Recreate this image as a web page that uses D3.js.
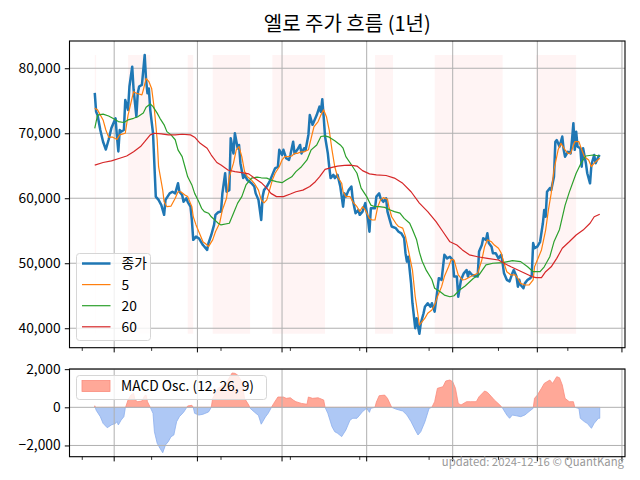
<!DOCTYPE html>
<html><head><meta charset="utf-8">
<script src="https://cdn.jsdelivr.net/npm/d3@7"></script>
<style>
body{margin:0;background:#fff}
svg{display:block}
text{font-family:"Noto Sans CJK KR","Noto Sans",sans-serif}
</style>
</head><body>
<svg id="c" width="640" height="480"></svg>
<script>
// ---------------- data ----------------
const titleText = "엘로 주가 흐름 (1년)";
const footerText = "updated: 2024-12-16 © QuantKang";
const legendLabels = ["종가", "5", "20", "60"];
const macdLabel = "MACD Osc. (12, 26, 9)";
const priceTicks = [40000, 50000, 60000, 70000, 80000];
const macdTicks = [-2000, 0, 2000];
const majorTickDates = ["2024-01-01","2024-03-01","2024-05-01","2024-07-01","2024-09-01","2024-11-01","2025-01-01"];
const minorTickDates = ["2023-12-09","2024-01-28","2024-03-18","2024-05-07","2024-06-26","2024-08-15","2024-10-04","2024-11-23"];

const closeSeries = [
["2023-12-18",76200],["2023-12-19",73300],["2023-12-20",72800],["2023-12-22",70500],["2023-12-24",68700],["2023-12-26",67500],["2023-12-28",69000],["2023-12-30",70800],
["2024-01-02",72300],["2024-01-03",69500],["2024-01-04",67200],["2024-01-05",70500],["2024-01-06",70250],["2024-01-08",70500],["2024-01-09",75100],["2024-01-11",73600],["2024-01-12",77200],["2024-01-14",80250],["2024-01-15",76700],["2024-01-17",72550],["2024-01-18",76150],["2024-01-19",77200],["2024-01-21",77450],["2024-01-23",82050],["2024-01-24",78200],["2024-01-25",76150],["2024-01-26",76900],["2024-01-27",73600],["2024-01-29",70000],["2024-01-31",60250],
["2024-02-02",59750],["2024-02-04",58950],["2024-02-06",57450],["2024-02-07",59750],["2024-02-10",60750],["2024-02-12",61000],["2024-02-14",60750],["2024-02-16",62300],["2024-02-17",61000],["2024-02-19",60500],["2024-02-20",59450],["2024-02-22",60000],["2024-02-23",59450],["2024-02-25",58700],["2024-02-26",56650],["2024-02-27",53600],["2024-02-29",54100],
["2024-03-02",53850],["2024-03-05",52800],["2024-03-08",52050],["2024-03-09",53100],["2024-03-11",54350],["2024-03-13",55900],["2024-03-14",57450],["2024-03-16",57850],["2024-03-18",57950],["2024-03-19",60750],["2024-03-21",63850],["2024-03-22",61000],["2024-03-24",61250],["2024-03-25",69250],["2024-03-27",66900],["2024-03-28",70000],["2024-03-30",67700],["2024-03-31",68200],
["2024-04-01",65400],["2024-04-03",63100],["2024-04-04",63600],["2024-04-06",62800],["2024-04-09",62300],["2024-04-11",61800],["2024-04-12",60750],["2024-04-14",59750],["2024-04-16",56650],["2024-04-17",60250],["2024-04-18",61250],["2024-04-20",61800],["2024-04-22",62550],["2024-04-24",63600],["2024-04-26",64600],["2024-04-28",64850],["2024-04-29",67450],
["2024-05-01",66650],["2024-05-02",67450],["2024-05-04",66150],["2024-05-06",65900],["2024-05-07",66650],["2024-05-09",68700],["2024-05-10",66900],["2024-05-12",67450],["2024-05-14",68200],["2024-05-15",66900],["2024-05-17",67700],["2024-05-18",67450],["2024-05-20",69750],["2024-05-21",72800],["2024-05-23",71300],["2024-05-24",71800],["2024-05-26",72800],["2024-05-28",74100],["2024-05-29",73300],["2024-05-30",75250],["2024-05-31",72550],
["2024-06-01",69500],["2024-06-03",66900],["2024-06-04",64850],["2024-06-05",63100],["2024-06-07",63600],["2024-06-08",63100],["2024-06-10",63600],["2024-06-12",61800],["2024-06-14",58700],["2024-06-15",60750],["2024-06-16",60250],["2024-06-18",61250],["2024-06-20",61800],["2024-06-21",59750],["2024-06-23",57700],["2024-06-25",58200],["2024-06-26",57450],["2024-06-28",57950],["2024-06-30",59250],
["2024-07-02",56650],["2024-07-03",54850],["2024-07-04",58450],["2024-07-07",58450],["2024-07-08",60250],["2024-07-10",60750],["2024-07-11",60000],["2024-07-13",59450],["2024-07-15",60000],["2024-07-16",57950],["2024-07-18",56400],["2024-07-19",55650],["2024-07-22",55400],["2024-07-24",54850],["2024-07-26",54600],["2024-07-28",53850],["2024-07-29",51550],["2024-07-30",50250],["2024-07-31",51000],
["2024-08-02",46900],["2024-08-03",43850],["2024-08-05",40000],["2024-08-06",41550],["2024-08-07",40250],["2024-08-08",39150],["2024-08-09",40750],["2024-08-11",42300],["2024-08-12",43300],["2024-08-14",43850],["2024-08-16",43300],["2024-08-17",43850],["2024-08-19",42550],["2024-08-21",45900],["2024-08-22",47700],["2024-08-24",47450],["2024-08-26",51300],["2024-08-28",50750],["2024-08-30",51000],
["2024-09-01",50500],["2024-09-02",47950],["2024-09-04",47950],["2024-09-05",44850],["2024-09-07",47450],["2024-09-09",48450],["2024-09-11",48950],["2024-09-12",47950],["2024-09-13",48700],["2024-09-15",48200],["2024-09-19",47950],["2024-09-20",51800],["2024-09-22",52800],["2024-09-23",53850],["2024-09-25",53600],["2024-09-26",54600],["2024-09-27",53100],["2024-09-29",52550],["2024-09-30",51550],
["2024-10-02",51550],["2024-10-04",50750],["2024-10-06",51300],["2024-10-07",50000],["2024-10-08",48450],["2024-10-10",47450],["2024-10-12",47200],["2024-10-14",48450],["2024-10-15",48950],["2024-10-17",47950],["2024-10-18",46400],["2024-10-19",47450],["2024-10-20",46650],["2024-10-22",46150],["2024-10-23",46900],["2024-10-25",47450],["2024-10-27",47700],["2024-10-28",48200],["2024-10-29",53100],["2024-10-30",52300],
["2024-11-01",52550],["2024-11-03",53300],["2024-11-05",56150],["2024-11-06",58200],["2024-11-07",57150],["2024-11-08",61000],["2024-11-10",61550],["2024-11-11",61250],["2024-11-13",63300],["2024-11-14",68700],["2024-11-15",68950],["2024-11-17",67950],["2024-11-19",69500],["2024-11-20",67450],["2024-11-21",66400],["2024-11-23",67150],["2024-11-25",66900],["2024-11-26",68950],["2024-11-27",71550],["2024-11-28",67450],["2024-11-29",70250],["2024-11-30",67950],
["2024-12-02",67700],["2024-12-03",64850],["2024-12-04",67700],["2024-12-06",65400],["2024-12-07",63850],["2024-12-09",62300],["2024-12-10",65150],["2024-12-11",65900],["2024-12-12",66650],["2024-12-13",65400],["2024-12-15",66400],["2024-12-16",66650]
];

const ma5Series = [
["2023-12-18",73850],["2023-12-20",73600],["2023-12-24",72050],["2023-12-26",70500],["2023-12-28",69400],["2023-12-31",69400],
["2024-01-03",69050],["2024-01-05",69750],["2024-01-09",70000],["2024-01-11",72800],["2024-01-13",74600],["2024-01-15",76400],["2024-01-17",76150],["2024-01-21",75900],["2024-01-22",76650],["2024-01-24",78450],["2024-01-26",77950],["2024-01-28",76900],["2024-01-30",73600],
["2024-02-01",69000],["2024-02-02",64850],["2024-02-05",61250],["2024-02-06",59450],["2024-02-08",58700],["2024-02-11",58800],["2024-02-14",60000],["2024-02-16",61000],["2024-02-18",61000],["2024-02-21",60500],["2024-02-23",60250],["2024-02-26",58700],["2024-02-27",57150],["2024-02-29",55900],
["2024-03-03",54350],["2024-03-05",53300],["2024-03-08",52800],["2024-03-09",52550],["2024-03-12",53600],["2024-03-14",54850],["2024-03-17",56150],["2024-03-19",58200],["2024-03-22",60000],["2024-03-24",63300],["2024-03-27",65400],["2024-03-29",67450],["2024-03-31",67950],
["2024-04-02",66400],["2024-04-04",64100],["2024-04-06",63300],["2024-04-09",62800],["2024-04-11",62300],["2024-04-14",61250],["2024-04-16",59750],["2024-04-18",59300],["2024-04-20",59750],["2024-04-22",61250],["2024-04-24",62800],["2024-04-26",63850],["2024-04-29",64850],
["2024-05-01",65900],["2024-05-03",66400],["2024-05-05",66400],["2024-05-08",66500],["2024-05-10",66900],["2024-05-12",66900],["2024-05-15",67150],["2024-05-17",67150],["2024-05-20",67450],["2024-05-22",69250],["2024-05-24",71000],["2024-05-27",71800],["2024-05-29",72800],["2024-05-31",73600],
["2024-06-02",72550],["2024-06-04",70500],["2024-06-06",67450],["2024-06-08",64850],["2024-06-10",63300],["2024-06-13",62300],["2024-06-14",61000],["2024-06-16",60250],["2024-06-19",60250],["2024-06-21",59450],["2024-06-24",58700],["2024-06-26",57950],["2024-06-28",58700],["2024-06-30",58200],
["2024-07-03",56900],["2024-07-05",56650],["2024-07-07",56650],["2024-07-09",58700],["2024-07-11",59750],["2024-07-13",60100],["2024-07-16",59850],["2024-07-17",58700],["2024-07-19",57150],["2024-07-22",56150],["2024-07-24",55650],["2024-07-27",55400],["2024-07-29",54100],["2024-07-31",52050],
["2024-08-03",48950],["2024-08-05",44850],["2024-08-08",40500],["2024-08-09",40750],["2024-08-12",41550],["2024-08-14",42300],["2024-08-17",42800],["2024-08-19",43600],["2024-08-21",44850],["2024-08-24",46400],["2024-08-26",47950],["2024-08-29",49450],["2024-08-31",50600],
["2024-09-02",50500],["2024-09-04",48950],["2024-09-05",48200],["2024-09-08",47450],["2024-09-10",47500],["2024-09-14",47950],["2024-09-19",48450],["2024-09-22",50500],["2024-09-24",52550],["2024-09-26",53600],["2024-09-29",53300],
["2024-10-01",52800],["2024-10-04",52300],["2024-10-06",51550],["2024-10-08",50000],["2024-10-10",48700],["2024-10-13",48200],["2024-10-16",48200],["2024-10-18",47700],["2024-10-20",46900],["2024-10-23",46650],["2024-10-26",46650],["2024-10-29",47450],["2024-10-30",49450],
["2024-11-02",51000],["2024-11-04",52050],["2024-11-07",55100],["2024-11-09",58200],["2024-11-11",60750],["2024-11-13",64350],["2024-11-16",67450],["2024-11-18",68450],["2024-11-21",67450],["2024-11-23",66900],["2024-11-25",66900],["2024-11-28",68700],
["2024-12-01",68700],["2024-12-03",67450],["2024-12-05",66400],["2024-12-08",65900],["2024-12-10",64850],["2024-12-12",65400],["2024-12-16",66150]
];

const ma20Series = [
["2023-12-18",70750],["2023-12-20",72800],["2023-12-24",72950],["2023-12-28",72650],["2023-12-31",72300],
["2024-01-04",71800],["2024-01-08",71650],["2024-01-11",72050],["2024-01-15",72300],["2024-01-18",72550],["2024-01-22",73100],["2024-01-24",74000],["2024-01-27",74500],["2024-01-29",74100],
["2024-02-01",73100],["2024-02-03",72300],["2024-02-06",71300],["2024-02-08",70250],["2024-02-11",69750],["2024-02-14",69000],["2024-02-16",67450],["2024-02-19",66400],["2024-02-21",64850],["2024-02-23",63300],["2024-02-26",62050],["2024-02-28",60750],
["2024-03-02",59450],["2024-03-04",58450],["2024-03-06",57950],["2024-03-09",57700],["2024-03-11",57150],["2024-03-14",56550],["2024-03-16",56150],["2024-03-18",55900],["2024-03-24",56150],["2024-03-27",57700],["2024-03-30",59250],
["2024-04-02",60250],["2024-04-05",62050],["2024-04-09",63100],["2024-04-13",63250],["2024-04-16",63150],["2024-04-20",63100],["2024-04-23",62800],["2024-04-27",62550],
["2024-05-01",62400],["2024-05-04",62800],["2024-05-08",63300],["2024-05-11",64100],["2024-05-15",64850],["2024-05-19",65900],["2024-05-22",67450],["2024-05-26",68200],["2024-05-29",69500],
["2024-06-01",69600],["2024-06-04",69400],["2024-06-08",68850],["2024-06-12",68200],["2024-06-14",67700],["2024-06-16",66400],["2024-06-20",65150],["2024-06-24",63850],["2024-06-27",61550],
["2024-07-01",60250],["2024-07-04",58950],["2024-07-07",58700],["2024-07-10",58700],["2024-07-14",58600],["2024-07-18",58200],["2024-07-21",57950],["2024-07-25",57700],["2024-07-28",56900],
["2024-08-01",56150],["2024-08-03",55200],["2024-08-06",53600],["2024-08-08",51700],["2024-08-10",50300],["2024-08-13",48900],["2024-08-17",47500],["2024-08-19",46150],["2024-08-23",45600],["2024-08-26",45100],["2024-08-30",44850],
["2024-09-02",45000],["2024-09-06",45900],["2024-09-10",46500],["2024-09-16",47700],["2024-09-20",48200],["2024-09-25",49750],["2024-09-30",50000],
["2024-10-07",50100],["2024-10-14",50400],["2024-10-20",50250],["2024-10-25",49450],["2024-10-29",48700],
["2024-11-03",48700],["2024-11-06",49450],["2024-11-10",51000],["2024-11-13",53300],["2024-11-17",55200],["2024-11-21",58900],["2024-11-24",60900],["2024-11-29",63850],
["2024-12-03",65600],["2024-12-06",66500],["2024-12-11",66650],["2024-12-16",66500]
];

const ma60Series = [
["2023-12-18",65100],["2023-12-24",65500],["2023-12-30",65750],
["2024-01-05",66150],["2024-01-10",66500],["2024-01-15",67150],["2024-01-20",67950],["2024-01-23",68700],["2024-01-27",69750],["2024-01-30",70000],
["2024-02-04",69900],["2024-02-09",69750],["2024-02-14",69750],["2024-02-19",69850],["2024-02-25",69750],["2024-02-28",69400],
["2024-03-03",68450],["2024-03-08",67700],["2024-03-11",66650],["2024-03-15",65500],["2024-03-18",65100],["2024-03-23",64350],["2024-03-28",64100],
["2024-04-02",63950],["2024-04-07",63750],["2024-04-11",63100],["2024-04-16",62400],["2024-04-20",61550],["2024-04-23",60750],["2024-04-27",60250],
["2024-05-02",60250],["2024-05-07",60650],["2024-05-11",61000],["2024-05-16",61250],["2024-05-21",61800],["2024-05-25",62550],["2024-05-28",63300],
["2024-06-01",64450],["2024-06-06",64750],["2024-06-10",64950],["2024-06-15",65050],["2024-06-19",65100],["2024-06-24",64950],["2024-06-28",64250],
["2024-07-03",63750],["2024-07-08",63600],["2024-07-15",63500],["2024-07-21",63100],["2024-07-27",62300],
["2024-08-02",61000],["2024-08-08",59250],["2024-08-14",57950],["2024-08-20",56400],["2024-08-25",54850],["2024-08-30",53300],
["2024-09-04",52800],["2024-09-08",52050],["2024-09-13",51300],["2024-09-19",51000],["2024-09-26",50750],
["2024-10-04",50500],["2024-10-08",50000],["2024-10-13",49450],["2024-10-18",48950],["2024-10-23",48450],["2024-10-28",47950],["2024-10-31",47800],
["2024-11-04",47800],["2024-11-07",48700],["2024-11-11",49450],["2024-11-15",50750],["2024-11-19",52300],["2024-11-24",53300],["2024-11-29",54350],
["2024-12-04",55100],["2024-12-09",56150],["2024-12-12",57150],["2024-12-16",57550]
];

const macdSeries = [
["2023-12-18",80],["2023-12-19",-150],["2023-12-22",-490],["2023-12-24",-840],["2023-12-27",-1070],["2023-12-30",-925],
["2024-01-02",-840],["2024-01-03",-750],["2024-01-04",-925],["2024-01-06",-670],["2024-01-08",-490],["2024-01-09",-50],["2024-01-11",385],["2024-01-13",640],["2024-01-15",735],["2024-01-16",385],["2024-01-18",295],["2024-01-21",330],["2024-01-23",610],["2024-01-24",640],["2024-01-25",295],["2024-01-27",0],["2024-01-29",-315],["2024-01-30",-1280],
["2024-02-01",-1885],["2024-02-03",-2150],["2024-02-05",-2380],["2024-02-07",-1970],["2024-02-09",-1800],["2024-02-11",-1540],["2024-02-13",-1450],["2024-02-15",-755],["2024-02-17",-490],["2024-02-20",-265],["2024-02-22",-40],["2024-02-23",70],["2024-02-26",105],["2024-02-27",0],["2024-02-28",-315],
["2024-03-02",-405],["2024-03-05",-365],["2024-03-09",-245],["2024-03-11",0],["2024-03-12",470],["2024-03-16",995],["2024-03-20",1170],["2024-03-23",1430],["2024-03-26",1800],["2024-03-28",1780],["2024-03-30",1695],
["2024-04-02",1340],["2024-04-04",470],["2024-04-07",120],["2024-04-08",-50],["2024-04-11",-245],["2024-04-14",-425],["2024-04-16",-885],["2024-04-19",-510],["2024-04-21",-315],["2024-04-23",-50],["2024-04-25",205],["2024-04-28",540],
["2024-05-02",540],["2024-05-04",470],["2024-05-07",500],["2024-05-09",385],["2024-05-11",295],["2024-05-15",205],["2024-05-19",160],["2024-05-20",540],["2024-05-23",470],["2024-05-27",500],["2024-05-28",470],["2024-05-31",385],
["2024-06-01",0],["2024-06-03",-315],["2024-06-06",-1015],["2024-06-08",-1280],["2024-06-10",-1360],["2024-06-13",-1535],["2024-06-16",-1190],["2024-06-19",-670],["2024-06-21",-575],["2024-06-24",-575],["2024-06-26",-405],["2024-06-28",-225],
["2024-07-01",-50],["2024-07-03",-265],["2024-07-04",-50],["2024-07-07",0],["2024-07-08",275],["2024-07-10",610],["2024-07-14",640],["2024-07-16",470],["2024-07-19",0],["2024-07-22",-90],["2024-07-27",-195],["2024-07-30",-405],
["2024-08-02",-755],["2024-08-05",-1190],["2024-08-07",-1450],["2024-08-09",-1280],["2024-08-12",-755],["2024-08-15",-50],["2024-08-17",0],["2024-08-19",295],["2024-08-21",995],["2024-08-25",1080],["2024-08-27",1380],["2024-08-30",1430],
["2024-09-01",1340],["2024-09-03",995],["2024-09-05",205],["2024-09-07",120],["2024-09-11",295],["2024-09-14",295],["2024-09-18",295],["2024-09-20",555],["2024-09-24",855],["2024-09-26",790],["2024-09-29",555],
["2024-10-01",385],["2024-10-05",120],["2024-10-07",-50],["2024-10-10",-405],["2024-10-12",-575],["2024-10-14",-405],["2024-10-17",-445],["2024-10-20",-490],["2024-10-23",-405],["2024-10-26",-225],["2024-10-29",-50],["2024-10-30",470],
["2024-11-01",640],["2024-11-04",995],["2024-11-06",1255],["2024-11-10",1430],["2024-11-12",1255],["2024-11-15",1605],["2024-11-17",1550],["2024-11-19",1170],["2024-11-21",470],["2024-11-24",295],["2024-11-27",295],["2024-11-28",0],
["2024-12-01",-60],["2024-12-02",-575],["2024-12-05",-755],["2024-12-07",-840],["2024-12-10",-1100],["2024-12-12",-840],["2024-12-15",-575],["2024-12-16",-575]
];

const positiveSpans = [
["2023-12-18","2023-12-19"],["2024-01-11","2024-01-27"],["2024-02-23","2024-02-27"],["2024-03-12","2024-04-08"],
["2024-04-24","2024-06-01"],["2024-07-07","2024-07-20"],["2024-08-19","2024-10-07"],["2024-10-31","2024-11-29"]
];

// ---------------- drawing ----------------
const parse = d3.timeParse("%Y-%m-%d");
const svg = d3.select("#c");
const main = {left: 69.5, right: 625, top: 41, bottom: 347.7};
const sub = {left: 69.5, right: 625, top: 369, bottom: 456.7};
const tickFont = 13.8;

const closeDates = closeSeries.map(d => parse(d[0]));
const [t0, t1] = d3.extent(closeDates);
const tspan = t1 - t0;
const x = d3.scaleTime()
  .domain([new Date(+t0 - tspan * 0.05), new Date(+t1 + tspan * 0.05)])
  .range([main.left, main.right]);

const priceVals = [closeSeries, ma5Series, ma20Series, ma60Series].flatMap(s => s.map(d => d[1]));
const [p0, p1] = d3.extent(priceVals);
const y = d3.scaleLinear().domain([p0 - (p1 - p0) * 0.05, p1 + (p1 - p0) * 0.05]).range([main.bottom, main.top]);

const [m0, m1] = d3.extent(macdSeries, d => d[1]);
const ym = d3.scaleLinear().domain([m0 - (m1 - m0) * 0.05, m1 + (m1 - m0) * 0.05]).range([sub.bottom, sub.top]);

const defs = svg.append("defs");
defs.append("clipPath").attr("id", "clipMain").append("rect")
  .attr("x", main.left).attr("y", main.top).attr("width", main.right - main.left).attr("height", main.bottom - main.top);
defs.append("clipPath").attr("id", "clipPos").append("rect")
  .attr("x", sub.left).attr("y", sub.top).attr("width", sub.right - sub.left).attr("height", ym(0) - sub.top);
defs.append("clipPath").attr("id", "clipNeg").append("rect")
  .attr("x", sub.left).attr("y", ym(0)).attr("width", sub.right - sub.left).attr("height", sub.bottom - ym(0));

const gridColor = "#b0b0b0";

// ---- main panel ----
const gMain = svg.append("g");
const closeMin = d3.min(closeSeries, d => d[1]);
const closeMax = d3.max(closeSeries, d => d[1]);
gMain.append("g").selectAll("rect").data(positiveSpans).join("rect")
  .attr("x", d => x(parse(d[0])))
  .attr("width", d => x(parse(d[1])) - x(parse(d[0])))
  .attr("y", y(closeMax))
  .attr("height", y(closeMin) - y(closeMax))
  .attr("fill", "rgb(255,0,0)").attr("fill-opacity", 0.045);

// grid
gMain.append("g").selectAll("line").data(priceTicks).join("line")
  .attr("x1", main.left).attr("x2", main.right)
  .attr("y1", d => y(d)).attr("y2", d => y(d))
  .attr("stroke", gridColor).attr("stroke-width", 1);
gMain.append("g").selectAll("line").data(majorTickDates).join("line")
  .attr("x1", d => x(parse(d))).attr("x2", d => x(parse(d)))
  .attr("y1", main.top).attr("y2", main.bottom)
  .attr("stroke", gridColor).attr("stroke-width", 1);

const line = d3.line().x(d => x(parse(d[0]))).y(d => y(d[1]));
const seriesDefs = [
  {data: closeSeries, color: "#1f77b4", w: 2.5},
  {data: ma5Series, color: "#ff7f0e", w: 1.2},
  {data: ma20Series, color: "#2ca02c", w: 1.2},
  {data: ma60Series, color: "#d62728", w: 1.2}
];
const gLines = gMain.append("g").attr("clip-path", "url(#clipMain)");
seriesDefs.forEach(s => {
  gLines.append("path").datum(s.data).attr("d", line)
    .attr("fill", "none").attr("stroke", s.color).attr("stroke-width", s.w)
    .attr("stroke-linejoin", "round").attr("stroke-linecap", "butt");
});

// axes frame
gMain.append("rect").attr("x", main.left).attr("y", main.top)
  .attr("width", main.right - main.left).attr("height", main.bottom - main.top)
  .attr("fill", "none").attr("stroke", "#000").attr("stroke-width", 1.1);

// y axis main
const yAxis = d3.axisLeft(y).tickValues(priceTicks).tickSize(4.7).tickPadding(4.2)
  .tickFormat(d3.format(",.0f"));
const gy = gMain.append("g").attr("transform", `translate(${main.left},0)`).call(yAxis);
gy.select(".domain").remove();
gy.selectAll("text").attr("font-size", tickFont).attr("fill", "#000")
  .attr("font-family", '"Noto Sans CJK KR","Noto Sans",sans-serif');

function xTicks(g, bottom) {
  g.append("g").selectAll("line").data(majorTickDates).join("line")
    .attr("x1", d => x(parse(d))).attr("x2", d => x(parse(d)))
    .attr("y1", bottom).attr("y2", bottom + 4.7).attr("stroke", "#000").attr("stroke-width", 1);
  g.append("g").selectAll("line").data(minorTickDates).join("line")
    .attr("x1", d => x(parse(d))).attr("x2", d => x(parse(d)))
    .attr("y1", bottom).attr("y2", bottom + 3.2).attr("stroke", "#000").attr("stroke-width", 0.8);
}
xTicks(gMain, main.bottom);

// legend main
const lg = gMain.append("g");
lg.append("rect").attr("x", 76.5).attr("y", 253.5).attr("width", 74).attr("height", 87)
  .attr("rx", 3).attr("fill", "#fff").attr("fill-opacity", 0.8).attr("stroke", "#d6d6d6").attr("stroke-width", 1);
legendLabels.forEach((lab, i) => {
  const cy = 263.5 + i * 21.1;
  lg.append("line").attr("x1", 82).attr("x2", 110.5).attr("y1", cy).attr("y2", cy)
    .attr("stroke", seriesDefs[i].color).attr("stroke-width", seriesDefs[i].w);
  lg.append("text").attr("x", 121.5).attr("y", cy).attr("dy", "0.36em")
    .attr("font-size", tickFont).attr("fill", "#000").text(lab);
});

// ---- MACD panel ----
const gSub = svg.append("g");
const area = d3.area().x(d => x(parse(d[0]))).y0(ym(0)).y1(d => ym(d[1]));
gSub.append("path").datum(macdSeries).attr("d", area).attr("clip-path", "url(#clipPos)")
  .attr("fill", "rgb(255,168,152)").attr("stroke", "rgb(250,140,125)").attr("stroke-width", 0.8);
gSub.append("path").datum(macdSeries).attr("d", area).attr("clip-path", "url(#clipNeg)")
  .attr("fill", "rgb(174,200,245)").attr("stroke", "rgb(140,175,238)").attr("stroke-width", 0.8);

gSub.append("g").selectAll("line").data(macdTicks).join("line")
  .attr("x1", sub.left).attr("x2", sub.right)
  .attr("y1", d => ym(d)).attr("y2", d => ym(d))
  .attr("stroke", gridColor).attr("stroke-width", 1);
gSub.append("g").selectAll("line").data(majorTickDates).join("line")
  .attr("x1", d => x(parse(d))).attr("x2", d => x(parse(d)))
  .attr("y1", sub.top).attr("y2", sub.bottom)
  .attr("stroke", gridColor).attr("stroke-width", 1);

gSub.append("rect").attr("x", sub.left).attr("y", sub.top)
  .attr("width", sub.right - sub.left).attr("height", sub.bottom - sub.top)
  .attr("fill", "none").attr("stroke", "#000").attr("stroke-width", 1.1);

const fmtM = d => d3.format(",.0f")(d).replace("-", "\u2212");
const ymAxis = d3.axisLeft(ym).tickValues(macdTicks).tickSize(4.7).tickPadding(4.2).tickFormat(fmtM);
const gym = gSub.append("g").attr("transform", `translate(${sub.left},0)`).call(ymAxis);
gym.select(".domain").remove();
gym.selectAll("text").attr("font-size", tickFont).attr("fill", "#000")
  .attr("font-family", '"Noto Sans CJK KR","Noto Sans",sans-serif');
xTicks(gSub, sub.bottom);

// legend macd
const lm = gSub.append("g");
lm.append("rect").attr("x", 76.5).attr("y", 375.5).attr("width", 190).attr("height", 24)
  .attr("rx", 3).attr("fill", "#fff").attr("fill-opacity", 0.8).attr("stroke", "#d6d6d6").attr("stroke-width", 1);
lm.append("rect").attr("x", 82).attr("y", 380.5).attr("width", 28).attr("height", 11)
  .attr("fill", "rgb(255,168,152)").attr("stroke", "rgb(250,140,125)").attr("stroke-width", 0.8);
lm.append("text").attr("x", 121).attr("y", 386).attr("dy", "0.36em")
  .attr("font-size", tickFont).attr("fill", "#000").text(macdLabel);

// title & footer
svg.append("text").attr("x", (main.left + main.right) / 2).attr("y", 30.5)
  .attr("text-anchor", "middle").attr("font-size", 20).attr("fill", "#000").text(titleText);
svg.append("text").attr("x", 624).attr("y", 465.5).attr("text-anchor", "end")
  .attr("font-size", 11.3).attr("fill", "#999").text(footerText);
</script>
</body></html>
